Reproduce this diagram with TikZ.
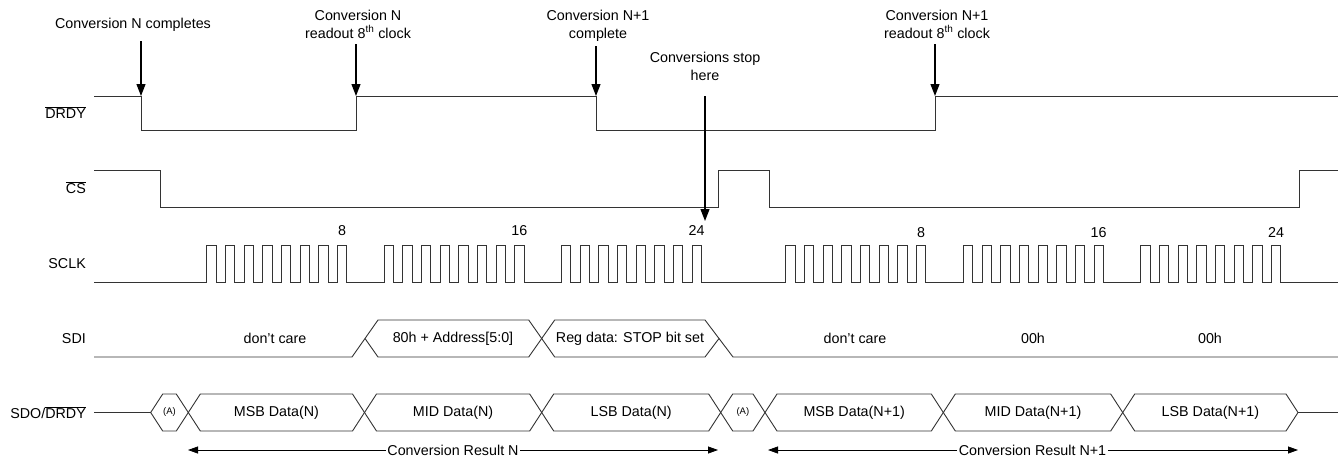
\documentclass[tikz,border=0pt]{standalone}
\usepackage{fontspec}
\setmainfont{Liberation Sans}
\usetikzlibrary{arrows.meta}
\newcommand\busseg[3]{%
  \draw[sig] (#1,412.5) -- ({#1+12},394) -- ({#2-12},394) -- (#2,412.5) -- ({#2-12},431) -- ({#1+12},431) -- cycle;}
\begin{document}
\begin{tikzpicture}[x=1pt,y=-1pt,
  sig/.style={draw=black!80,line width=0.9pt,line join=miter},
  callout/.style={draw=black,line width=1.2pt,-{Triangle[length=12pt,width=9pt]}},
  span/.style={draw=black,line width=0.8pt,-{Triangle[length=10pt,width=7pt]}},
  lbl/.style={font=\fontsize{14.3}{18}\selectfont,align=center,inner sep=1.5pt},
  sname/.style={font=\fontsize{14.3}{18}\selectfont,anchor=east,inner sep=0pt},
  small/.style={font=\fontsize{9.5}{11}\selectfont,inner sep=0pt}]
\useasboundingbox (0,0) rectangle (1338,458);
% ---------- signal names
\node[sname] (nDRDY) at (86,113) {$\overline{\mbox{DRDY}}$};
\node[sname] (nCS) at (86,188) {$\overline{\mbox{CS}}$};
\node[sname] (nSCLK) at (86,264) {SCLK};
\node[sname] (nSDI) at (86,338.5) {SDI};
\node[sname] (nSDO) at (86,412.5) {SDO/$\overline{\mbox{DRDY}}$};
% ---------- DRDY
\draw[sig] (94,96) -- (141,96) -- (141,130) -- (356,130) -- (356,96) -- (596,96) -- (596,130) -- (935,130) -- (935,96) -- (1338,96);
% ---------- CS
\draw[sig] (94,170) -- (160,170) -- (160,207) -- (718,207) -- (718,170) -- (769,170) -- (769,207) -- (1299,207) -- (1299,170) -- (1338,170);
% ---------- SCLK
\draw[sig] (94,282)
  \foreach \s in {206.67,384,561.33,785.67,963.33,1140.67}{
    \foreach \k in {0,...,7}{
      -- ({\s+\k*18.667},282) -- ({\s+\k*18.667},245) -- ({\s+\k*18.667+9.333},245) -- ({\s+\k*18.667+9.333},282)}}
  -- (1338,282);
\foreach \s/\t/\y [count=\i] in {206.67/8/231, 384/16/231, 561.33/24/231, 785.67/8/233, 963.33/16/233, 1140.67/24/233}
  \node[lbl] (clk\i) at ({\s+135.33},\y) {\t};
% ---------- SDI
\draw[sig] (94,357) -- (352,357) -- (378,320) -- (528.7,320) -- (554.7,357) -- (705,357) -- (719,338.5);
\draw[sig] (365,338.5) -- (378,357) -- (528.7,357) -- (554.7,320) -- (705,320) -- (733,357) -- (1338,357);
\node[lbl] (sdi1) at (275,338.5) {don’t care};
\node[lbl] (sdi2) at (453,338.5) {80h + Address[5:0]};
\node[lbl] (sdi3) at (630,338.5) {Reg data: STOP bit set};
\node[lbl] (sdi4) at (855,338.5) {don’t care};
\node[lbl] (sdi5) at (1033,338.5) {00h};
\node[lbl] (sdi6) at (1210,338.5) {00h};
% ---------- SDO
\draw[sig] (94,412.5) -- (150.7,412.5);
\busseg{150.7}{188.3}{}
\busseg{188.3}{364.5}{}
\busseg{364.5}{541.7}{}
\busseg{541.7}{720.7}{}
\busseg{720.7}{765}{}
\busseg{765}{943.3}{}
\busseg{943.3}{1122.7}{}
\busseg{1122.7}{1298}{}
\draw[sig] (1298,412.5) -- (1338,412.5);
\node[small] (sdoA1) at (169.5,412.5) {(A)};
\node[lbl] (sdo1) at (276.4,412.5) {MSB Data(N)};
\node[lbl] (sdo2) at (453.1,412.5) {MID Data(N)};
\node[lbl] (sdo3) at (631.2,412.5) {LSB Data(N)};
\node[small] (sdoA2) at (742.9,412.5) {(A)};
\node[lbl] (sdo4) at (854.2,412.5) {MSB Data(N+1)};
\node[lbl] (sdo5) at (1033,412.5) {MID Data(N+1)};
\node[lbl] (sdo6) at (1210.4,412.5) {LSB Data(N+1)};
% ---------- conversion result spans
\node[lbl] (res1) at (453,450) {Conversion Result N};
\coordinate (res1l) at (188,450);
\coordinate (res1r) at (718,450);
\draw[span] (res1.west) -- (res1l);
\draw[span] (res1.east) -- (res1r);
\node[lbl] (res2) at (1032.5,450) {Conversion Result N+1};
\coordinate (res2l) at (768,450);
\coordinate (res2r) at (1298,450);
\draw[span] (res2.west) -- (res2l);
\draw[span] (res2.east) -- (res2r);
% ---------- callouts
\node[lbl] (t1) at (133,25) {Conversion N completes};
\node[lbl] (t2) at (358,24) {Conversion N\\readout 8\textsuperscript{th} clock};
\node[lbl] (t3) at (598,26) {Conversion N+1\\complete};
\node[lbl] (t4) at (705,66) {Conversions stop\\here};
\node[lbl] (t5) at (937,24) {Conversion N+1\\readout 8\textsuperscript{th} clock};
\coordinate (a1s) at (141,41);  \coordinate (a1e) at (141,96);
\coordinate (a2s) at (356,44);  \coordinate (a2e) at (356,96);
\coordinate (a3s) at (596,46);  \coordinate (a3e) at (596,96);
\coordinate (a4s) at (705,96);  \coordinate (a4e) at (705,221);
\coordinate (a5s) at (935,44);  \coordinate (a5e) at (935,96);
\draw[callout] (a1s) -- (a1e);
\draw[callout] (a2s) -- (a2e);
\draw[callout] (a3s) -- (a3e);
\draw[callout] (a4s) -- (a4e);
\draw[callout] (a5s) -- (a5e);
\end{tikzpicture}
\end{document}
